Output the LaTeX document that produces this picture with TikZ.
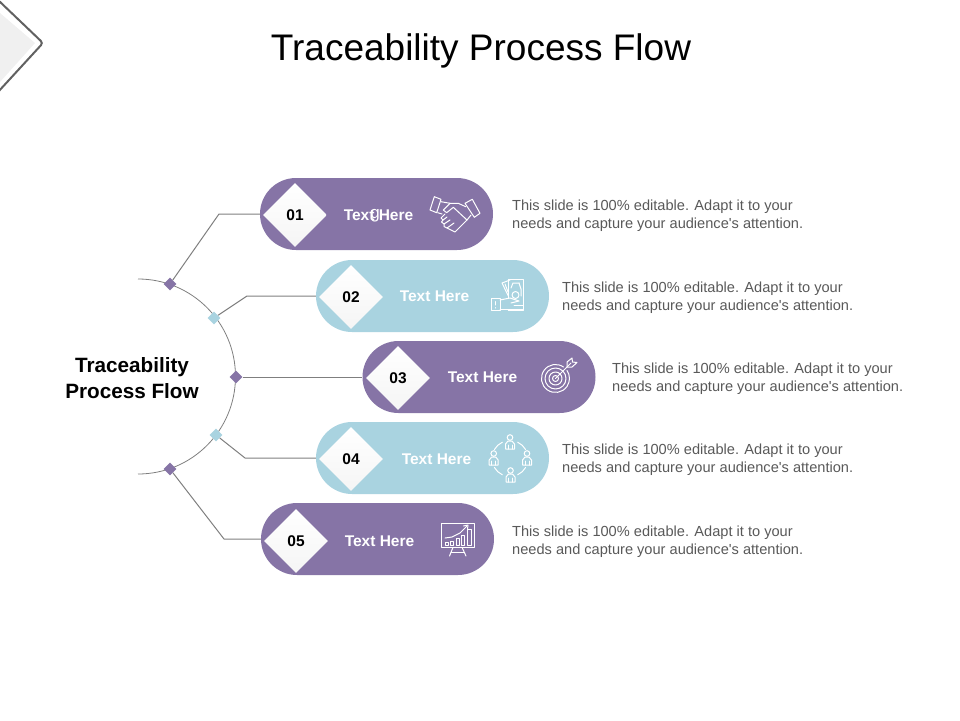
\documentclass[tikz,border=0pt]{standalone}
\usepackage{fontspec}
\setmainfont{Liberation Sans}
\usetikzlibrary{arrows,positioning,shapes.geometric}
\definecolor{flowpurple}{HTML}{8674A6}
\definecolor{flowblue}{HTML}{A9D3E0}
\definecolor{flowline}{HTML}{7F7F7F}
\definecolor{flowtext}{HTML}{595959}
\tikzset{
  pill/.style={rectangle,rounded corners=36pt,minimum width=233pt,minimum height=72pt,inner sep=0pt},
  numbox/.style={diamond,minimum width=64pt,minimum height=64pt,inner sep=0pt,top color=white,bottom color=black!4,
    font=\fontsize{15.5pt}{18pt}\selectfont\bfseries,text=black},
  dot/.style={diamond,minimum width=13pt,minimum height=13pt,inner sep=0pt},
  pilltext/.style={text=white,font=\fontsize{15.5pt}{18pt}\selectfont\bfseries},
  desc/.style={anchor=west,align=left,text=flowtext,inner sep=0pt,font=\fontsize{14.6pt}{18.3pt}\selectfont},
  linkline/.style={draw=flowline,line width=1pt},
  iconline/.style={draw=white,line width=1pt,line join=round,line cap=round},
}
\newcommand{\personicon}[2]{%
\draw[iconline] (#1,#2-4.5) circle[radius=2.8];
\draw[iconline] (#1-4.5,#2+7) -- (#1-4.5,#2+2) -- (#1-2,#2-1) -- (#1+2,#2-1) -- (#1+4.5,#2+2) -- (#1+4.5,#2+7) -- cycle;
\draw[iconline] (#1-2,#2+7) -- (#1-2,#2+3);
\draw[iconline] (#1+2,#2+7) -- (#1+2,#2+3);
}
\newcommand{\blurb}{This slide is 100\% editable. Adapt it to your\\needs and capture your audience\textquotesingle s attention.}
\begin{document}
\begin{tikzpicture}[x=1pt,y=-1pt]
\useasboundingbox (0,0) rectangle (960,720);
% corner mark
\fill[black!6] (0,13) -- (35,43) -- (0,82) -- cycle;
\draw[draw=black!62,line width=2pt,rounded corners=3pt] (-2,0) -- (43,43) -- (-2,92);
% title
\node (title) [font=\fontsize{37pt}{44pt}\selectfont,text=black] at (481,51) {Traceability Process Flow};
\node (hub) [align=center,font=\fontsize{20.7pt}{25.3pt}\selectfont\bfseries,text=black] at (132,378) {Traceability\\Process Flow};
% hub arc
\coordinate (arctop) at (138,279);
\draw[draw=flowline,line width=0.8pt] (arctop) arc[start angle=-90,end angle=90,radius=97.5];
% pills
\node (pill1) [pill,fill=flowpurple] at (376.5,214) {};
\node (pill2) [pill,fill=flowblue] at (432.5,296) {};
\node (pill3) [pill,fill=flowpurple] at (479,377) {};
\node (pill4) [pill,fill=flowblue] at (432.5,458) {};
\node (pill5) [pill,fill=flowpurple] at (377.5,539) {};
%
\node (num1) [numbox] at (295,215) {01};
\node (num2) [numbox] at (351,297) {02};
\node (num3) [numbox] at (398,378) {03};
\node (num4) [numbox] at (351,459) {04};
\node (num5) [numbox] at (296,541) {05};
%
\node (label1) [pilltext] at (378.5,215) {Text Here};
\node (stray1) [pilltext,font=\fontsize{17pt}{18pt}\selectfont] at (375,216) {g};
\node (label2) [pilltext] at (434.5,296) {Text Here};
\node (label3) [pilltext] at (482.5,377) {Text Here};
\node (label4) [pilltext] at (436.5,459) {Text Here};
\node (label5) [pilltext] at (379.5,541) {Text Here};
%
\node (dot1) [dot,fill=flowpurple] at (170,284) {};
\node (dot2) [dot,fill=flowblue] at (214,318) {};
\node (dot3) [dot,fill=flowpurple] at (236,377) {};
\node (dot4) [dot,fill=flowblue] at (216,435) {};
\node (dot5) [dot,fill=flowpurple] at (170,469) {};
%
\coordinate (bend1) at (219,214);
\coordinate (bend2) at (247,296);
\coordinate (bend4) at (245,458);
\coordinate (bend5) at (224,539);
\draw[linkline] (dot1) -- (bend1) -- (pill1.west);
\draw[linkline] (dot2) -- (bend2) -- (pill2.west);
\draw[linkline] (dot3) -- (pill3.west);
\draw[linkline] (dot4) -- (bend4) -- (pill4.west);
\draw[linkline] (dot5) -- (bend5) -- (pill5.west);
%
\node (desc1) [desc] at (512,216) {\blurb};
\node (desc2) [desc] at (562,297.5) {\blurb};
\node (desc3) [desc] at (612,378.5) {\blurb};
\node (desc4) [desc] at (562,459.5) {\blurb};
\node (desc5) [desc] at (512,541.5) {\blurb};
% handshake
\draw[iconline] (430,210) -- (434.3,196.7) -- (441,199.3) -- (436.7,212.7) -- cycle;
\draw[iconline] (465,203.3) -- (472.3,199.3) -- (480,213.3) -- (474.3,217.3) -- cycle;
\draw[iconline] (441,201.7) -- (450,203.3) -- (458.3,203.3) -- (465.7,206.7);
\draw[iconline] (450,203.3) -- (443.3,210) -- (446.7,212.7) -- (453.3,207.3) -- (467,220) -- (471,215);
\draw[iconline] (437.7,212.7) -- (442,214);
\draw[iconline] (445,214) -- (441,218) -- (443,220) -- (447,217);
\draw[iconline] (443,220) -- (441.5,222) -- (444,224) -- (450,220);
\draw[iconline] (444,224) -- (444,226.5) -- (447,228) -- (454,223);
\draw[iconline] (447,228) -- (455,232) -- (467,220);
% money
\draw[iconline] (508.3,279.3) -- (523.3,279.3) -- (523.3,310.7) -- (508.3,310.7);
\draw[iconline] (508.3,279.3) -- (508.3,298);
\draw[iconline] (508.3,296) -- (502,283) -- (510,280);
\draw[iconline] (505,284) -- (508,292);
\draw[iconline] (515.5,295) circle[radius=3.5];
\draw[iconline] (519,283) -- (513,283) -- (511,288);
\draw[iconline] (519,283) -- (521,289) -- (521,296);
\draw[iconline] (491.7,298.3) rectangle (500,310.7);
\draw[iconline] (495.8,301.5) -- (495.8,305);
\draw[iconline] (495.8,307.5) -- (495.8,308);
\draw[iconline] (500,300) -- (510,298) -- (519,301) -- (511,303);
\draw[iconline] (500,309) -- (523,309);
\draw[iconline] (514,305) -- (523,305);
% target
\draw[iconline] (555.5,378.5) circle[radius=3];
\draw[iconline] (555.5,378.5) circle[radius=6.5];
\draw[iconline] (555.5,378.5) circle[radius=10.5];
\draw[iconline] (563.5,367) arc[start angle=-55,end angle=-395,radius=14];
\draw[iconline] (555.5,378.5) -- (571,363);
\draw[iconline] (567,367) -- (567,362) -- (572,358) -- (572.5,362) -- (577,362.5) -- (572,367) -- cycle;
% people
\personicon{510}{442}
\personicon{493.7}{458}
\personicon{527}{458}
\personicon{510.5}{475}
\draw[iconline] ([shift={(-150:18)}]510,458.5) arc[start angle=-150,end angle=-115,radius=18];
\draw[iconline] ([shift={(-65:18)}]510,458.5) arc[start angle=-65,end angle=-30,radius=18];
\draw[iconline] ([shift={(30:18)}]510,458.5) arc[start angle=30,end angle=65,radius=18];
\draw[iconline] ([shift={(115:18)}]510,458.5) arc[start angle=115,end angle=150,radius=18];
% chart
\draw[iconline] (441,523) rectangle (474.3,547.3);
\draw[iconline] (453,547.3) -- (449.5,556);
\draw[iconline] (462,547.3) -- (466,556);
\draw[iconline] (451,552) -- (464.5,552);
\draw[iconline] (445,538) -- (452,537) -- (460,533) -- (467,526);
\draw[iconline] (463.5,526) -- (468,525) -- (467.5,529);
\draw[iconline] (445,545) rectangle (448,542);
\draw[iconline] (450.5,545) rectangle (453.5,541);
\draw[iconline] (456,545) rectangle (459,538);
\draw[iconline] (461,545) rectangle (464,535);
\draw[iconline] (467,545) rectangle (471,529);
\end{tikzpicture}
\end{document}
